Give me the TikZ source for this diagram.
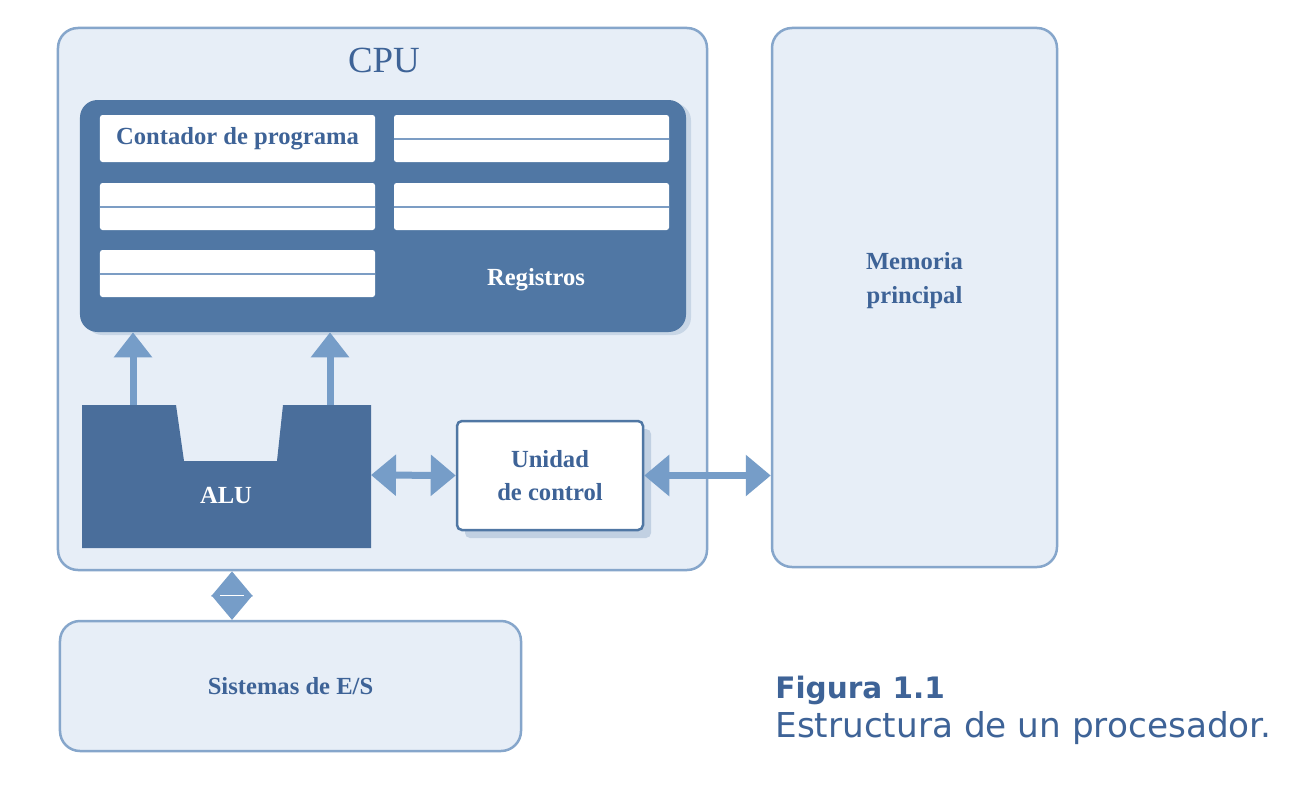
\documentclass[tikz,border=0pt]{standalone}
\usepackage{fontspec}
\setmainfont{Liberation Serif}
\newfontfamily\capfont{DejaVu Sans}
\usetikzlibrary{arrows.meta,shadows,calc,positioning}
\definecolor{cpufill}{HTML}{E7EEF7}
\definecolor{cpuline}{HTML}{86A6CB}
\definecolor{regblue}{HTML}{5077A4}
\definecolor{alublue}{HTML}{4A6E9B}
\definecolor{arrowblue}{HTML}{769DC8}
\definecolor{textblue}{HTML}{3E6397}
\definecolor{regline}{HTML}{7C9DC4}
\tikzset{
  labelfont/.style={font=\bfseries\fontsize{14}{19}\selectfont},
  unitbox/.style={draw=cpuline, line width=0.5mm, fill=cpufill, rounded corners=4mm,
    inner sep=0pt, text=textblue, align=center, labelfont},
  regcell/.style={fill=white, rounded corners=0.5mm, minimum width=55mm,
    minimum height=9.4mm, inner sep=0pt, text=textblue, labelfont},
  whitelabel/.style={text=white, labelfont},
  bigarrow/.style={draw=arrowblue, line width=1.4mm, -{Triangle[width=7.4mm,length=5mm]}},
  bigdouble/.style={draw=arrowblue, line width=1.4mm,
    {Triangle[width=8mm,length=5mm]}-{Triangle[width=8mm,length=5mm]}}
}
\begin{document}
\begin{tikzpicture}[x=0.2mm,y=-0.2mm]
  \useasboundingbox[fill=white] (0,0) rectangle (1292,786);

  % main blocks
  \node[unitbox, minimum width=129.8mm, minimum height=108.4mm] (cpu) at (382.5,299) {};
  \node[text=textblue, font=\fontsize{21}{24}\selectfont] (cputitle) at (384,60) {CPU};
  \node[unitbox, minimum width=57mm, minimum height=107.8mm,
    label={[text=textblue, align=center, labelfont, yshift=3.4mm]center:{Memoria\\principal}}]
    (mem) at (914.5,297.5) {};
  \node[unitbox, minimum width=92.2mm, minimum height=26mm] (es) at (290.5,686) {Sistemas de E/S};

  % registers
  \node[fill=regblue, rounded corners=3.5mm, minimum width=121.2mm, minimum height=46.4mm,
    drop shadow={shadow xshift=1mm, shadow yshift=-0.6mm, opacity=0.2, fill=regblue}]
    (regs) at (383,216) {};
  \node[regcell] (pc) at (237.5,138.5) {Contador de programa};
  \foreach \x/\y/\n in {531.5/138.5/1, 237.5/206.5/2, 531.5/206.5/3, 237.5/273.5/4} {
    \node[regcell] (r\n) at (\x,\y) {};
    \draw[regline, line width=0.4mm] (r\n.west) -- (r\n.east);
  }
  \node[whitelabel] (regname) at (536,280) {Registros};

  % ALU (notched block)
  \fill[alublue] (82,405) -- (176,405) -- (184,461) -- (277,461) -- (283,405)
    -- (371,405) -- (371,548) -- (82,548) -- cycle;
  \node[whitelabel] (alu) at (226,495) {ALU};
  \coordinate (aluA) at (133,405);
  \coordinate (aluB) at (330,405);
  \coordinate (aluR) at (371,475);

  % control unit
  \node[draw=regblue, line width=0.5mm, fill=white, rounded corners=1mm,
    minimum width=37.2mm, minimum height=21.8mm, align=center, text=textblue, labelfont,
    drop shadow={shadow xshift=1.6mm, shadow yshift=-1.6mm, opacity=0.25, fill=regblue}]
    (uc) at (550,475.5) {Unidad\\de control};

  % buses
  \draw[bigarrow] (aluA) -- (aluA |- regs.south);
  \draw[bigarrow] (aluB) -- (aluB |- regs.south);
  \draw[bigdouble] (aluR) -- (uc.west);
  \draw[bigdouble] (uc.east) -- (uc.east -| mem.west);
  \coordinate (esport) at (232,620);
  \draw[bigdouble] (esport |- cpu.south) -- (esport);
  \draw[white, line width=0.3mm] ($(esport |- cpu.south)!0.5!(esport)+(-12,0)$) -- +(24,0);

  % caption
  \node[anchor=north west, align=left, text=textblue, inner sep=0pt,
    font=\capfont\fontsize{19.5}{20}\selectfont] (caption) at (775,676)
    {{\bfseries\fontsize{16.8}{20}\selectfont Figura 1.1}\\[2pt]Estructura de un procesador.};
\end{tikzpicture}
\end{document}
